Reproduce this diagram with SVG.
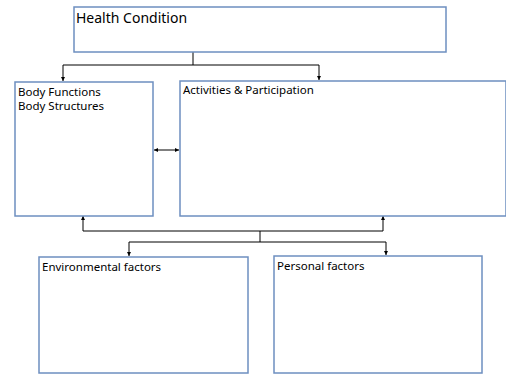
<svg xmlns="http://www.w3.org/2000/svg" width="506" height="376" viewBox="0 0 506 376">
<defs>
<marker id="ah" markerWidth="4" markerHeight="4" refX="4" refY="2" orient="auto" markerUnits="userSpaceOnUse">
<path d="M0,0 L4,2 L0,4 z" fill="#000"/>
</marker>
</defs>
<style>
.box{fill:#fff;stroke:#6d8fc0;stroke-width:1.5}
.t{font-family:"Noto Sans","Open Sans",sans-serif;font-size:11.5px;fill:#000}
.big{font-size:14px}
.c{fill:none;stroke:#000;stroke-width:1}
</style>
<rect width="506" height="376" fill="#fff"/>
<g id="connectors">
<path class="c" d="M193,52 V65"/>
<path class="c" d="M63,65 H319"/>
<path class="c" d="M63,65 V81" marker-end="url(#ah)"/>
<path class="c" d="M319,65 V80" marker-end="url(#ah)"/>
<path class="c" d="M166,150 H154" marker-end="url(#ah)"/>
<path class="c" d="M166,150 H179" marker-end="url(#ah)"/>
<path class="c" d="M83,231 V216" marker-end="url(#ah)"/>
<path class="c" d="M383,231 V216" marker-end="url(#ah)"/>
<path class="c" d="M83,231 H383"/>
<path class="c" d="M260,231 V242"/>
<path class="c" d="M129,242 H386"/>
<path class="c" d="M129,242 V256" marker-end="url(#ah)"/>
<path class="c" d="M386,242 V255" marker-end="url(#ah)"/>
</g>
<g id="health">
<rect class="box" x="74" y="7" width="372" height="45"/>
<text class="t big" x="76" y="23">Health Condition</text>
</g>
<g id="body">
<rect class="box" x="15" y="82" width="138" height="134"/>
<text class="t" x="18" y="96">Body Functions</text>
<text class="t" x="18" y="110">Body Structures</text>
</g>
<g id="activities">
<rect class="box" x="180" y="81" width="326" height="135"/>
<text class="t" x="183" y="94">Activities &amp; Participation</text>
</g>
<g id="environmental">
<rect class="box" x="39" y="257" width="209" height="116"/>
<text class="t" x="42" y="271">Environmental factors</text>
</g>
<g id="personal">
<rect class="box" x="274" y="256" width="208" height="117"/>
<text class="t" x="277" y="270">Personal factors</text>
</g>
</svg>
